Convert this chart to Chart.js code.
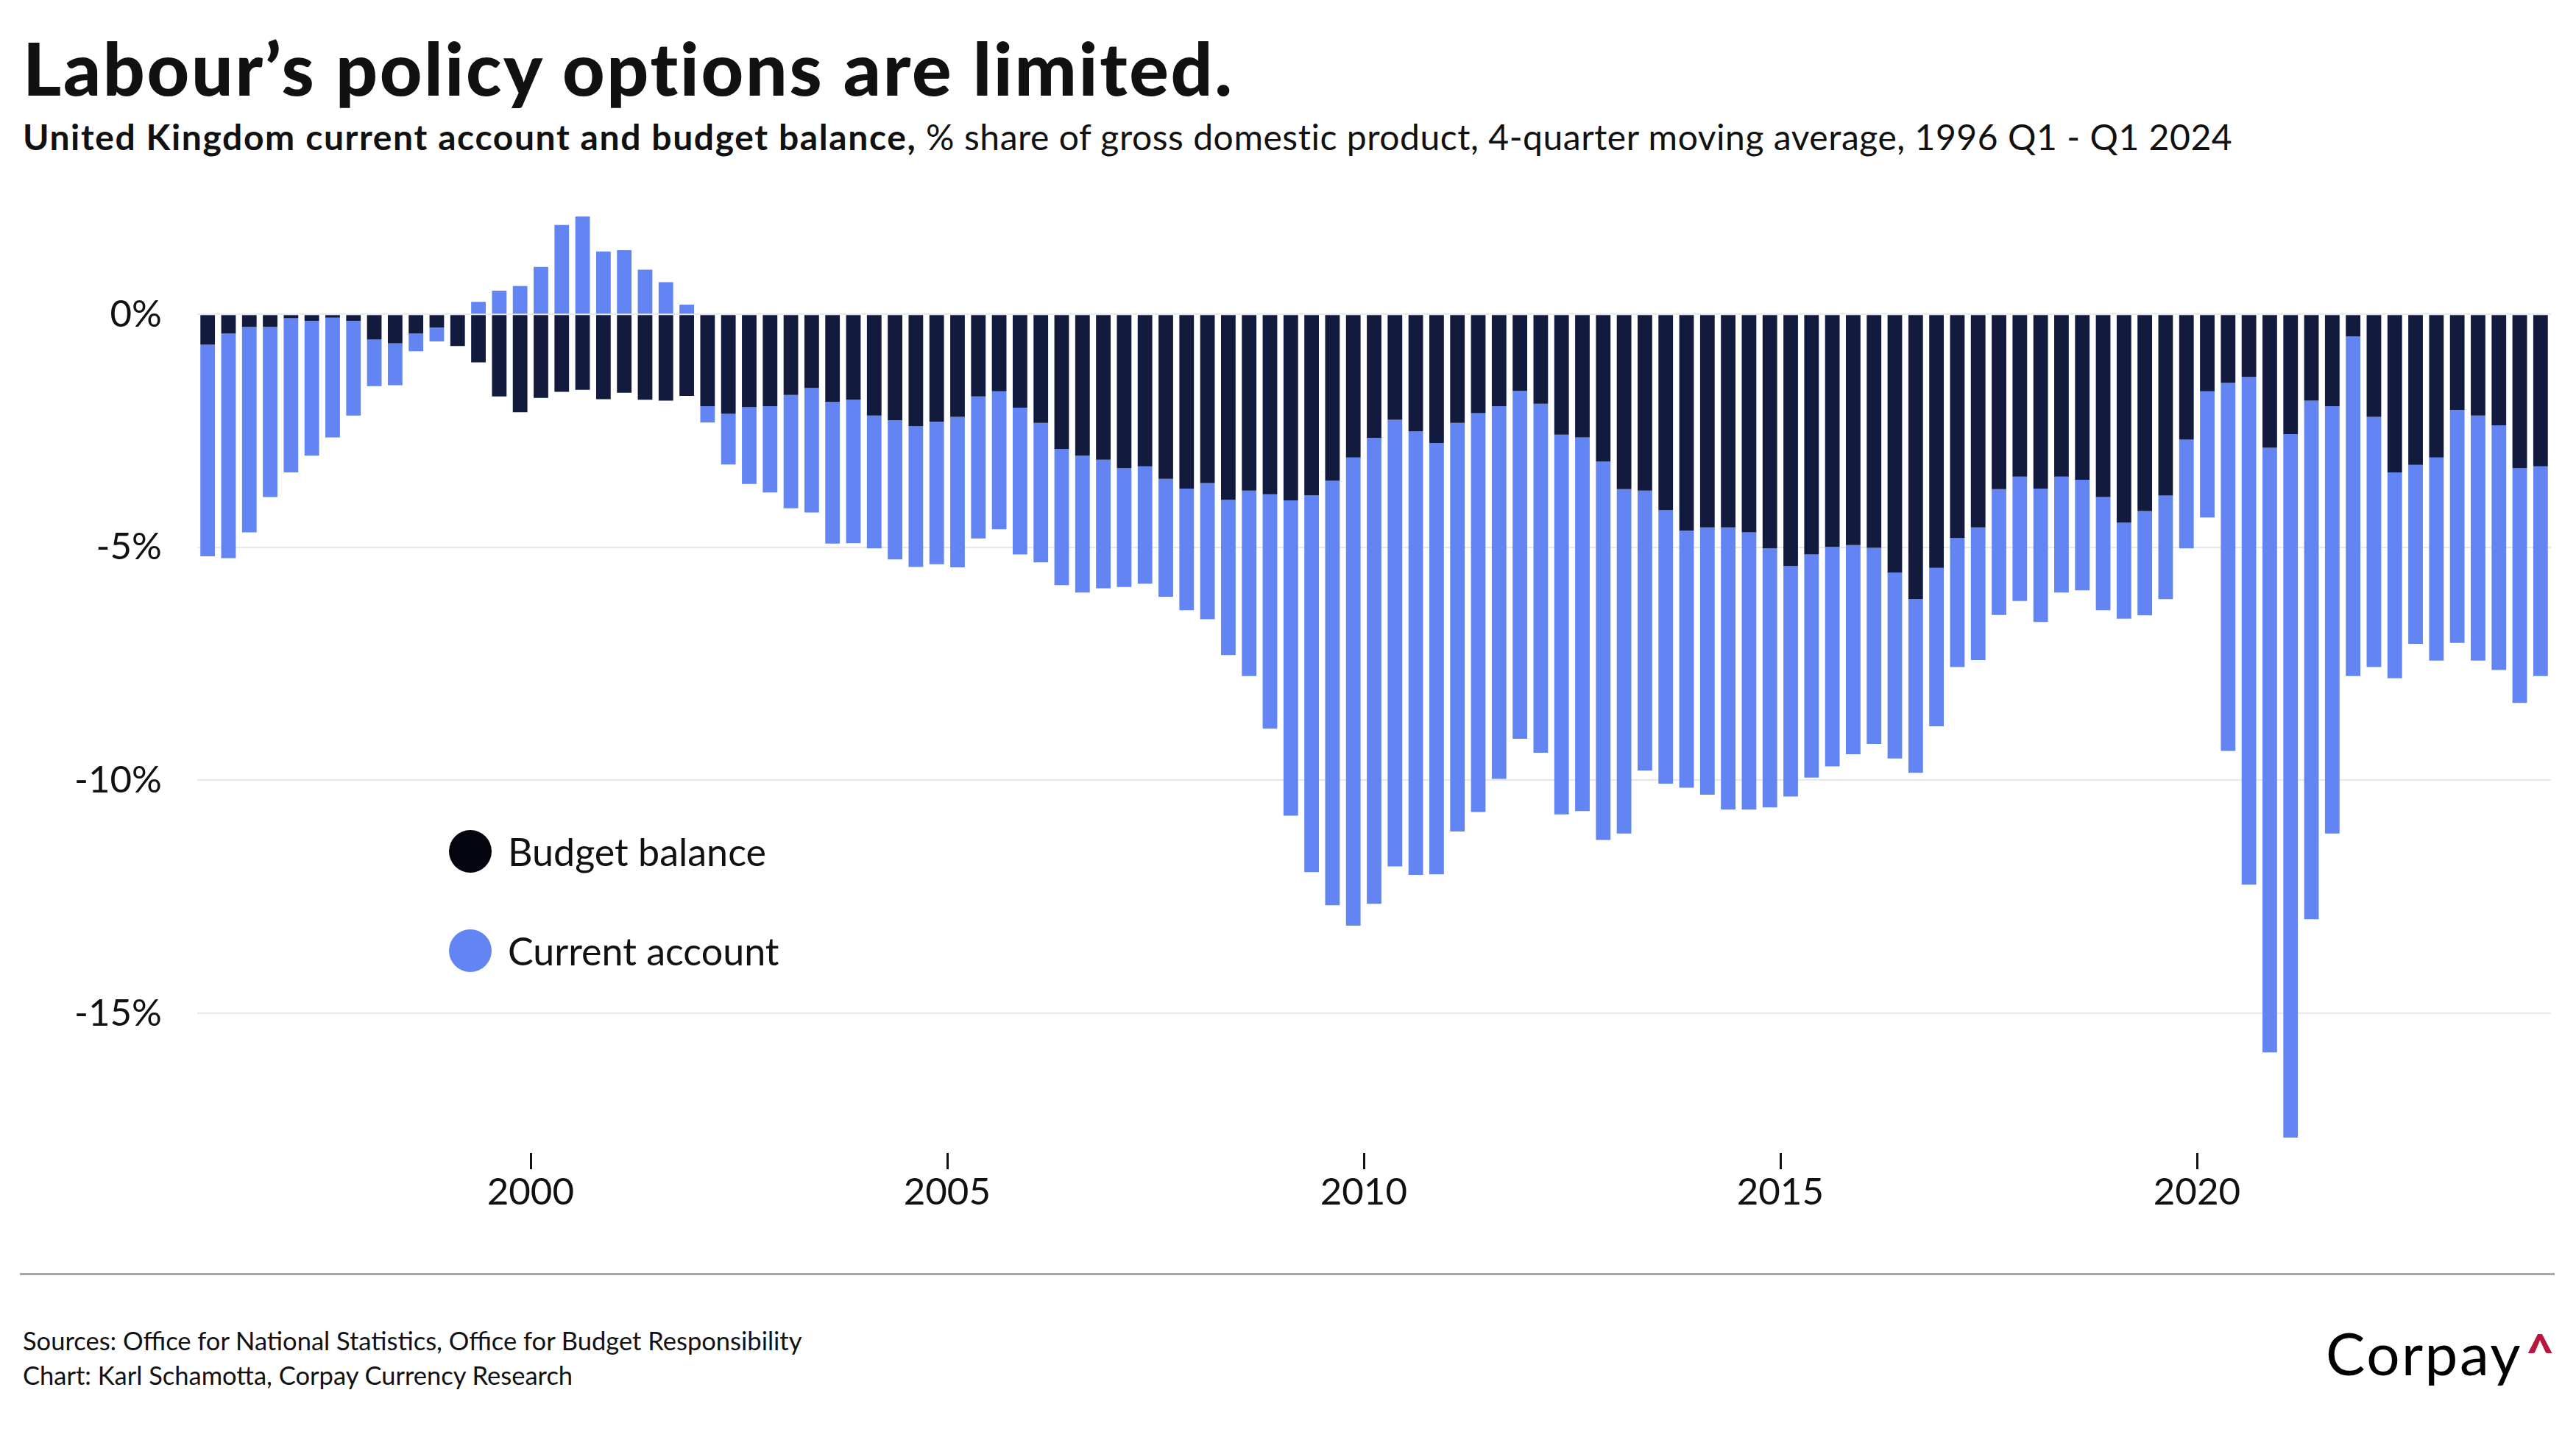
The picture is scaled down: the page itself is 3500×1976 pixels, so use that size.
<!DOCTYPE html>
<html>
<head>
<meta charset="utf-8">
<script src="https://cdn.jsdelivr.net/npm/chart.js@4.4.1/dist/chart.umd.min.js"></script>
<style>
  html, body { margin: 0; padding: 0; background: #fff; }
  #page { position: relative; width: 3500px; height: 1976px; overflow: hidden; font-family: "Lato", sans-serif; color: #111; }
  #page div { position: absolute; white-space: nowrap; line-height: 1.2; }
  #chart { position: absolute; left: 0; top: 0; }
  .legend-item { display: flex; align-items: center; }
  .legend-dot { display: inline-block; width: 58px; height: 58px; border-radius: 50%; margin-right: 22px; }
</style>
</head>
<body>
<div id="page">
  <div id="title" style="left:31px; top:31px; font-size:100px; font-weight:900; letter-spacing:2.7px;">Labour’s policy options are limited.</div>
  <div id="subtitle" style="left:31px; top:157px; font-size:48px;"><b style="font-weight:700; letter-spacing:1.6px;">United Kingdom current account and budget balance,</b><span style="letter-spacing:0.55px;"> % share of gross domestic product, 4-quarter moving average, 1996 Q1 - Q1 2024</span></div>
  <canvas id="chart" width="3500" height="1700"></canvas>
  <div id="legend" style="left:610px; top:1126px;"></div>
  <div style="left:27px; top:1730px; width:3444px; height:3px; background:#a6a6a6;"></div>
  <div style="left:31px; top:1801px; font-size:34.5px;">Sources: Office for National Statistics, Office for Budget Responsibility</div>
  <div style="left:31px; top:1848px; font-size:34.5px;">Chart: Karl Schamotta, Corpay Currency Research</div>
  <div style="left:3160px; top:1790px; font-size:80px; letter-spacing:2.5px; color:#000;">Corpay</div>
  <div style="left:3432px; top:1797px; font-size:66px; font-weight:900; color:#b8173f;">^</div>
</div>
<script>
// quarters 1996 Q1 .. 2024 Q1
const quarters = [];
for (let y = 1996; y <= 2024; y++) {
    for (let q = 1; q <= 4; q++) {
        if (y === 2024 && q > 1) break;
        quarters.push(`${y} Q${q}`);
    }
}

const yearTicks = [2000, 2005, 2010, 2015, 2020];
const percentTicks = [0, -5, -10, -15];

// % of GDP
const budgetBalance = [
    -0.65, -0.41, -0.27, -0.27, -0.08, -0.14, -0.07, -0.14, -0.54, -0.62, -0.41, -0.28, -0.68, -1.03,
    -1.76, -2.10, -1.79, -1.66, -1.62, -1.82, -1.68, -1.83, -1.85, -1.75, -1.97, -2.13, -1.99, -1.97,
    -1.73, -1.58, -1.88, -1.83, -2.17, -2.27, -2.40, -2.30, -2.20, -1.76, -1.65, -2.00, -2.33,
    -2.89, -3.03, -3.12, -3.30, -3.26, -3.53, -3.74, -3.62, -3.98, -3.78, -3.86, -3.99, -3.88,
    -3.57, -3.07, -2.65, -2.26, -2.51, -2.76, -2.33, -2.12, -1.97, -1.64, -1.92, -2.58, -2.64, -3.16,
    -3.75, -3.78, -4.20, -4.64, -4.57, -4.57, -4.68, -5.02, -5.40, -5.15, -4.99, -4.95, -5.01,
    -5.54, -6.11, -5.44, -4.80, -4.57, -3.75, -3.48, -3.74, -3.48, -3.55, -3.92, -4.47, -4.22, -3.89,
    -2.69, -1.65, -1.47, -1.34, -2.86, -2.57, -1.85, -1.97, -0.47, -2.20, -3.39, -3.23, -3.07, -2.05,
    -2.17, -2.38, -3.30, -3.26
];

const currentAccount = [
    -4.54, -4.82, -4.41, -3.65, -3.31, -2.89, -2.57, -2.03, -1.00, -0.90, -0.38, -0.30, 0.00, 0.27,
    0.51, 0.61, 1.02, 1.92, 2.10, 1.35, 1.38, 0.96, 0.69, 0.21, -0.35, -1.09, -1.65, -1.85,
    -2.43, -2.67, -3.04, -3.08, -2.85, -2.99, -3.02, -3.06, -3.23, -3.05, -2.96, -3.15, -2.99,
    -2.92, -2.94, -2.76, -2.55, -2.52, -2.53, -2.61, -2.92, -3.33, -3.98, -5.03, -6.77, -8.09,
    -9.11, -10.05, -10.00, -9.59, -9.52, -9.26, -8.77, -8.56, -8.00, -7.47, -7.49, -8.15, -8.02, -8.12,
    -7.39, -6.01, -5.87, -5.52, -5.74, -6.06, -5.95, -5.56, -4.95, -4.79, -4.71, -4.49, -4.21,
    -3.99, -3.73, -3.40, -2.77, -2.85, -2.70, -2.67, -2.86, -2.49, -2.37, -2.43, -2.06, -2.24, -2.22,
    -2.33, -2.71, -7.90, -10.90, -12.98, -15.10, -11.13, -9.17, -7.29, -5.37, -4.42, -3.84, -4.36, -5.00,
    -5.26, -5.25, -5.04, -4.50
];

// bar sits in the middle of its quarter on a year axis
function quarterToX(label) {
    const [year, q] = label.split(' Q').map(Number);
    return year + (q - 1) / 4 + 0.125;
}

function toPoints(values) {
    return values.map((v, i) => ({ x: quarterToX(quarters[i]), y: v }));
}

// little tick marks above the year labels
const yearTickMarks = {
    id: 'yearTickMarks',
    afterDraw(chart) {
        const { ctx, chartArea, scales } = chart;
        ctx.save();
        ctx.strokeStyle = '#111';
        ctx.lineWidth = 3;
        yearTicks.forEach(v => {
            const px = Math.round(scales.x.getPixelForValue(v)) + 0.5;
            ctx.beginPath();
            ctx.moveTo(px, chartArea.bottom);
            ctx.lineTo(px, chartArea.bottom + 22);
            ctx.stroke();
        });
        ctx.restore();
    }
};

const tickFont = { family: 'Lato', size: 51 };

const chart = new Chart(document.getElementById('chart'), {
    type: 'bar',
    data: {
        datasets: [{
            label: 'Budget balance',
            data: toPoints(budgetBalance),
            backgroundColor: '#121a3d',
            legendColor: '#05050f'
        }, {
            label: 'Current account',
            data: toPoints(currentAccount),
            backgroundColor: '#6384f3',
            legendColor: '#6384f3'
        }]
    },
    options: {
        responsive: false,
        animation: false,
        devicePixelRatio: 1,
        barPercentage: 0.7,
        categoryPercentage: 1.0,
        layout: { padding: { top: 269, right: 34, left: 0, bottom: 0 } },
        plugins: { legend: { display: false }, tooltip: { enabled: false } },
        scales: {
            x: {
                type: 'linear',
                stacked: true,
                offset: false,
                min: 1996,
                max: 2024.25,
                afterBuildTicks: s => { s.ticks = yearTicks.map(v => ({ value: v })); },
                afterFit: s => { s.height = 133; },
                grid: { display: false },
                border: { display: false },
                ticks: { font: tickFont, color: '#111', padding: 15, maxRotation: 0, callback: v => String(v) }
            },
            y: {
                stacked: true,
                min: -18,
                max: 2.5,
                afterBuildTicks: s => { s.ticks = percentTicks.map(v => ({ value: v })); },
                afterFit: s => { s.width = 268; },
                grid: { color: '#e8e8e8', lineWidth: 2, drawTicks: false },
                border: { display: false },
                ticks: { font: tickFont, color: '#111', padding: 48, callback: v => v + '%' }
            }
        }
    },
    plugins: [yearTickMarks]
});

// legend drawn as html, inside the plot
const $legend = document.getElementById('legend');
$legend.innerHTML = chart.data.datasets.map((ds, i) =>
    `<div class="legend-item" style="position:absolute; left:0; top:${i * 135}px; font-size:52px;">` +
    `<span class="legend-dot" style="background:${ds.legendColor}"></span>${ds.label}</div>`
).join('');
</script>
</body>
</html>
